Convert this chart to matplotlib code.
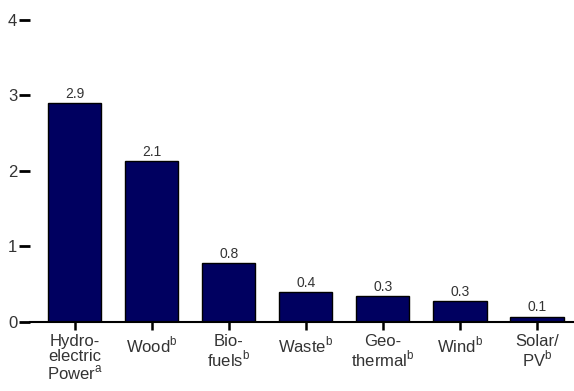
import matplotlib
matplotlib.use("Agg")
import matplotlib.pyplot as plt

plt.rcParams['font.family'] = 'Liberation Sans'
plt.rcParams['mathtext.fontset'] = 'custom'
plt.rcParams['mathtext.rm'] = 'Liberation Sans'

categories = ["Hydro-\nelectric\nPower$^\\mathrm{a}$", "Wood$^\\mathrm{b}$", "Bio-\nfuels$^\\mathrm{b}$",
              "Waste$^\\mathrm{b}$", "Geo-\nthermal$^\\mathrm{b}$", "Wind$^\\mathrm{b}$", "Solar/\nPV$^\\mathrm{b}$"]
values = [2.9, 2.13, 0.78, 0.4, 0.34, 0.28, 0.07]
value_labels = ["2.9", "2.1", "0.8", "0.4", "0.3", "0.3", "0.1"]

fig = plt.figure(figsize=(5.74, 3.91), dpi=100)
ax = fig.add_axes([0.052, 0.1765, 0.948, 0.7725])

x = list(range(len(values)))
ax.bar(x, values, width=0.69, color="#000060", edgecolor="black", linewidth=1)
for i in x:
    ax.text(i, values[i] + 0.03, value_labels[i], ha="center", va="bottom", fontsize=10, color="#333333")

ax.set_xlim(-0.58, 6.48)
ax.set_ylim(0, 4)
ax.set_yticks([0, 1, 2, 3, 4])
ax.set_xticks(x)
ax.set_xticklabels(categories, fontsize=12, color="#333333", linespacing=0.95)

for s in ["top", "right", "left"]:
    ax.spines[s].set_visible(False)
ax.spines["bottom"].set_linewidth(1.5)
ax.tick_params(axis="y", direction="out", length=8, width=2, labelsize=12, pad=1, labelcolor="#333333")
ax.tick_params(axis="x", direction="out", length=6, width=1.8, pad=3)

fig.savefig("out.png", dpi=100)
